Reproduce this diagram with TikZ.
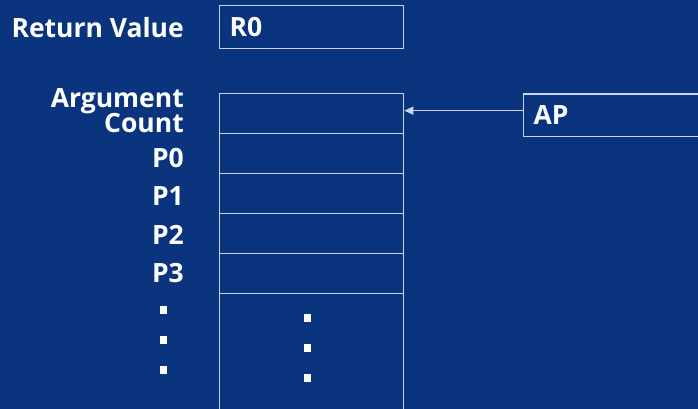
\documentclass[tikz,border=0pt]{standalone}
\usepackage{fontspec}
\setmainfont{Open Sans}
\usetikzlibrary{arrows.meta}
\definecolor{stackbg}{RGB}{10,52,125}
\definecolor{frame}{RGB}{205,212,228}
\newcommand{\labelfont}{\fontsize{26.5}{30}\selectfont\bfseries}
\tikzset{
  lbl/.style={anchor=base east, inner sep=0pt, text=white, font=\labelfont},
  cell/.style={draw=frame, line width=1.3pt, anchor=north west, minimum width=184pt, inner sep=0pt},
  tagbox/.style={draw=frame, line width=1.3pt, anchor=north west, inner xsep=10pt, inner ysep=0pt,
    text=white, font=\labelfont, align=left},
  dot/.style={fill=white, minimum size=7.5pt, inner sep=0pt},
  ptr/.style={draw=frame, line width=1.1pt, -{Triangle[length=9pt,width=8pt]}}
}
\begin{document}
\begin{tikzpicture}[x=1pt,y=-1pt]
  \fill[stackbg] (0,0) rectangle (698,409);
  \useasboundingbox (0,0) rectangle (698,409);

  % return value slot
  \node[lbl] (rvl) at (184,38) {Return Value};
  \node[tagbox, text width=164pt, minimum height=43pt] (r0) at (219,5) {R0};

  % argument block
  \node[lbl] (argl) at (184,107.5) {Argument};
  \node[lbl] (cntl) at (184,132) {Count};
  \node[cell, minimum height=39.5pt] (argc) at (219,93) {};
  \node[cell, minimum height=40pt] (p0) at (219,132.5) {};
  \node[cell, minimum height=40pt] (p1) at (219,172.5) {};
  \node[cell, minimum height=40pt] (p2) at (219,212.5) {};
  \node[cell, minimum height=40pt] (p3) at (219,252.5) {};
  \node[cell, minimum height=140pt] (rest) at (219,292.5) {};

  \node[lbl] (p0l) at (184,167) {P0};
  \node[lbl] (p1l) at (184,205.5) {P1};
  \node[lbl] (p2l) at (184,244.5) {P2};
  \node[lbl] (p3l) at (184,282) {P3};

  % continuation marks
  \node[dot] (ld1) at (163.5,310) {};
  \node[dot] (ld2) at (163.5,340) {};
  \node[dot] (ld3) at (163.5,370) {};
  \node[dot] (rd1) at (307.5,318) {};
  \node[dot] (rd2) at (307.5,348) {};
  \node[dot] (rd3) at (307.5,378) {};

  % argument pointer
  \node[tagbox, text width=200pt, minimum height=42pt] (ap) at (523,93.5) {AP};
  \coordinate (apin) at ([yshift=4.5pt]ap.west);
  \draw[ptr] (apin) -- (apin -| argc.east);
\end{tikzpicture}
\end{document}
